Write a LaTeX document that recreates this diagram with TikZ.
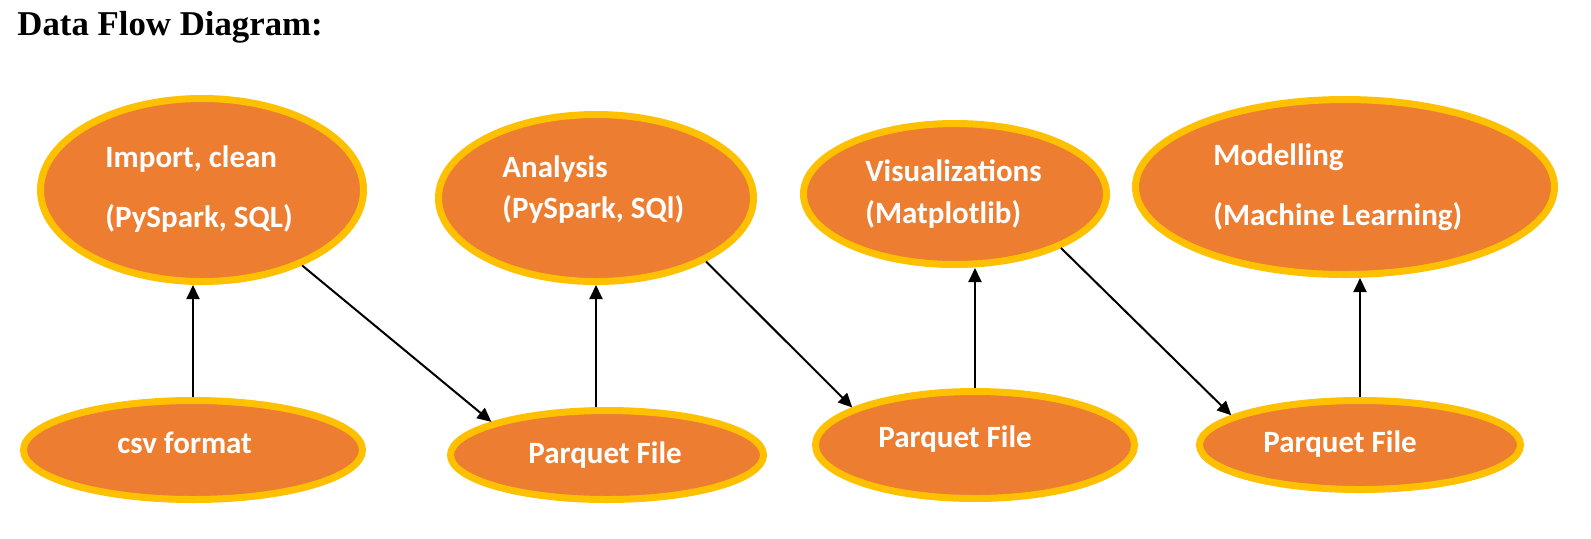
\documentclass[tikz,border=0pt]{standalone}
\usepackage{fontspec}
\setmainfont{Liberation Serif}
\newfontfamily\lblfont{Carlito}
\usetikzlibrary{shapes.geometric,arrows.meta}
\definecolor{ofill}{HTML}{ED7D31}
\definecolor{oring}{HTML}{FFC000}
\begin{document}
\begin{tikzpicture}[x=0.5pt,y=-0.5pt,
  bubble/.style={ellipse, draw=oring, fill=ofill, line width=3.5pt, inner sep=0pt},
  lbl/.style={anchor=base west, inner sep=0pt, text=white, font=\lblfont\bfseries\fontsize{15.5}{18}\selectfont},
  arr/.style={-{Triangle[length=7pt,width=6.5pt]}, line width=1pt, black}]
\useasboundingbox (0,0) rectangle (1591,538);
\node[anchor=base west, inner sep=0pt, font=\bfseries\fontsize{17.4}{20}\selectfont] (title) at (17,35) {Data Flow Diagram:};
% upper ellipses
\node[bubble, minimum width=161.5pt, minimum height=91.5pt] (e1) at (202,190) {};
\node[bubble, minimum width=157.5pt, minimum height=83.5pt] (e2) at (596,198) {};
\node[bubble, minimum width=151.5pt, minimum height=70.5pt] (e3) at (955,194) {};
\node[bubble, minimum width=209.5pt, minimum height=87.5pt] (e4) at (1345,187) {};
% lower ellipses
\node[bubble, minimum width=169.5pt, minimum height=49.5pt] (csv) at (193,450) {};
\node[bubble, minimum width=156.5pt, minimum height=44.5pt] (p1) at (607,455) {};
\node[bubble, minimum width=159.5pt, minimum height=53.5pt] (p2) at (975,445) {};
\node[bubble, minimum width=160.5pt, minimum height=44.5pt] (p3) at (1360,445) {};
% labels
\node[lbl] (t1a) at (105,167) {Import, clean};
\node[lbl] (t1b) at (105,227) {(PySpark, SQL)};
\node[lbl] (t2a) at (502,177) {Analysis};
\node[lbl] (t2b) at (502,218) {(PySpark, SQl)};
\node[lbl] (t3a) at (865,181) {Visualizations};
\node[lbl] (t3b) at (865,223) {(Matplotlib)};
\node[lbl] (t4a) at (1213,165) {Modelling};
\node[lbl] (t4b) at (1213,225) {(Machine Learning)};
\node[lbl] (tc) at (117,453) {csv format};
\node[lbl] (tp1) at (528,463) {Parquet File};
\node[lbl] (tp2) at (878,447) {Parquet File};
\node[lbl] (tp3) at (1263,452) {Parquet File};
% connectors
\draw[arr] (csv.north) -- (csv.north |- e1.south);
\draw[arr] (e1.-37) -- (p1.164);
\draw[arr] (p1.north -| e2.south) -- (e2.south);
\draw[arr] (e2.-30) -- (p2.163);
\draw[arr] (p2.north) -- (p2.north |- e3.south);
\draw[arr] (e3.-27) -- (p3.167);
\draw[arr] (p3.north) -- (p3.north |- e4.south);
\end{tikzpicture}
\end{document}
